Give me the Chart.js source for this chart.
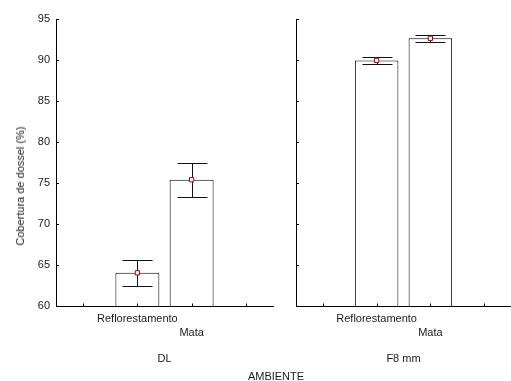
<!DOCTYPE html>
<html>
<head>
<meta charset="utf-8">
<script src="https://cdn.jsdelivr.net/npm/chart.js@4"></script>
<style>
  html, body { margin: 0; padding: 0; width: 511px; height: 381px; overflow: hidden; background: #fff; }
  #wrap { position: relative; width: 511px; height: 381px; }
  canvas { position: absolute; top: 0; }
  #c1 { left: 0; }
  #c2 { left: 276px; }
  .cap { position: absolute; font: 11px "Liberation Sans", Arial, sans-serif; color: #1a1a1a; white-space: nowrap; }
  #ytitle { left: 20px; top: 186px; transform: translate(-50%, -50%) rotate(-90deg); }
  #xtitle { left: 276px; top: 376px; transform: translate(-50%, -50%); }
</style>
</head>
<body>
<div id="wrap">
  <canvas id="c1" width="280" height="381"></canvas>
  <canvas id="c2" width="240" height="381"></canvas>
  <div class="cap" id="ytitle">Cobertura de dossel (%)</div>
  <div class="cap" id="xtitle">AMBIENTE</div>
</div>
<script>
// Canopy cover (%) by site type, one panel per environment
const groups = ['Reflorestamento', 'Mata'];
const panels = ['DL', 'F8 mm'];
const meansDL = [64.05, 75.4];
const errDL = [1.55, 2.05];
const meansF8 = [89.95, 92.65];
const errF8 = [0.4, 0.45];
const yTicks = [60, 65, 70, 75, 80, 85, 90, 95];

Chart.defaults.font.family = '"Liberation Sans", Arial, sans-serif';
Chart.defaults.font.size = 11;
Chart.defaults.color = '#1a1a1a';

// short tick marks pointing into the plot area
const innerTicks = {
  id: 'innerTicks',
  afterDraw(chart) {
    const { ctx, chartArea: a } = chart;
    const xs = chart.scales.x, ys = chart.scales.y;
    ctx.save();
    ctx.strokeStyle = '#000';
    ctx.lineWidth = 1;
    ctx.beginPath();
    xs.ticks.forEach((t, i) => {
      const px = Math.round(xs.getPixelForTick(i)) + 0.5;
      ctx.moveTo(px, a.bottom);
      ctx.lineTo(px, a.bottom - 2.5);
    });
    ys.ticks.forEach((t, i) => {
      const py = Math.round(ys.getPixelForTick(i)) + 0.5;
      ctx.moveTo(a.left, py);
      ctx.lineTo(a.left + 3, py);
    });
    ctx.stroke();
    ctx.restore();
  }
};

// error bars drawn right after the bars, beneath the mean markers
const errorBars = {
  id: 'errorBars',
  afterDatasetDraw(chart, args) {
    if (args.index !== 0) return;
    const ds = chart.data.datasets[0];
    const ys = chart.scales.y;
    const ctx = chart.ctx;
    ctx.save();
    ctx.strokeStyle = '#111';
    ctx.lineWidth = 1;
    ctx.beginPath();
    args.meta.data.forEach((bar, i) => {
      const v = ds.data[i];
      if (v == null) return;
      const e = ds.errors[i];
      const cx = Math.round(bar.x) + 0.5;
      const hi = Math.round(ys.getPixelForValue(v + e)) + 0.5;
      const lo = Math.round(ys.getPixelForValue(v - e)) + 0.5;
      const half = Math.round(bar.width * 0.35);
      ctx.moveTo(cx, hi); ctx.lineTo(cx, lo);
      ctx.moveTo(cx - half, hi); ctx.lineTo(cx + half, hi);
      ctx.moveTo(cx - half, lo); ctx.lineTo(cx + half, lo);
    });
    ctx.stroke();
    ctx.restore();
  }
};

function makePanel(id, title, means, errs, showYLabels, yWidth, padRight) {
  const labels = ['', ...groups, ''];
  const values = [null, ...means, null];
  const errors = [null, ...errs, null];
  return new Chart(document.getElementById(id), {
    data: {
      labels,
      datasets: [
        {
          type: 'bar',
          data: values,
          errors,
          base: yTicks[0],
          backgroundColor: '#fff',
          borderColor: '#000',
          borderWidth: 1,
          categoryPercentage: 0.81,
          barPercentage: 1,
          order: 2
        },
        {
          type: 'line',
          data: values,
          showLine: false,
          pointStyle: 'rect',
          pointRadius: 3,
          pointBackgroundColor: '#fff',
          pointBorderColor: '#b00000',
          pointBorderWidth: 1,
          order: 1
        }
      ]
    },
    options: {
      responsive: false,
      animation: false,
      layout: { padding: { top: 19, right: padRight, bottom: 0, left: 0 } },
      plugins: { legend: { display: false }, tooltip: { enabled: false } },
      scales: {
        x: {
          type: 'category',
          offset: true,
          grid: { display: false, drawTicks: false },
          border: { display: true, color: '#000', width: 1 },
          ticks: {
            autoSkip: false,
            maxRotation: 0,
            minRotation: 0,
            padding: 6,
            font: { lineHeight: 1.3 },
            callback(value, index) {
              const lab = labels[index];
              // stagger every second group label onto a second line
              return index % 2 === 0 && lab ? ['', lab] : lab;
            }
          },
          title: { display: true, text: title, padding: { top: 0, bottom: 15 } },
          afterFit(s) { s.height = 75; }
        },
        y: {
          min: yTicks[0],
          max: yTicks[yTicks.length - 1],
          grid: { display: false, drawTicks: false },
          border: { display: true, color: '#000', width: 1 },
          afterBuildTicks(s) { s.ticks = yTicks.map(v => ({ value: v })); },
          ticks: { display: showYLabels, padding: 6 },
          afterFit(s) { s.width = yWidth; }
        }
      }
    },
    plugins: [errorBars, innerTicks]
  });
}

makePanel('c1', panels[0], meansDL, errDL, true, 56, 7);
makePanel('c2', panels[1], meansF8, errF8, false, 20, 2);
</script>
</body>
</html>
